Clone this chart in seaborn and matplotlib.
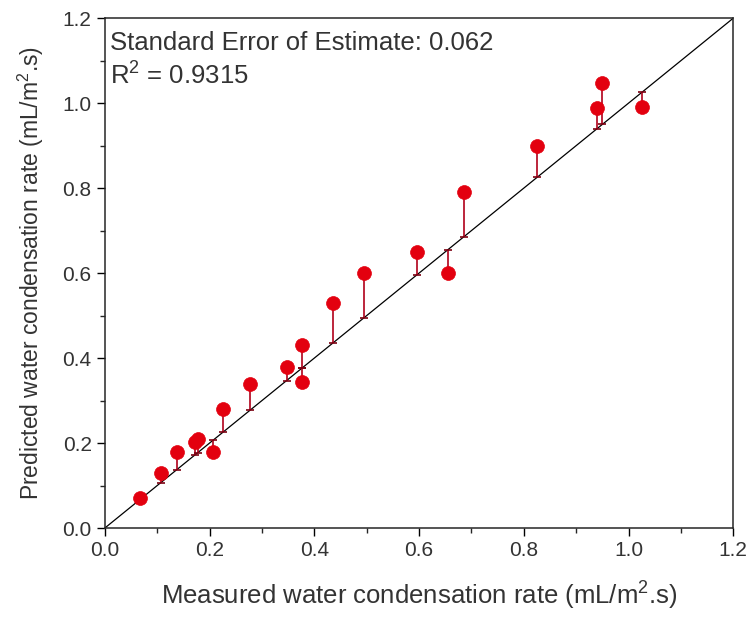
import matplotlib
matplotlib.use("Agg")
import matplotlib.pyplot as plt
from matplotlib.ticker import MultipleLocator
import seaborn as sns
import pandas as pd

# measured vs predicted water condensation rate (mL/m2.s)
measured = [0.067, 0.107, 0.137, 0.172, 0.177, 0.207, 0.225, 0.277, 0.347,
            0.376, 0.377, 0.436, 0.495, 0.596, 0.655, 0.686, 0.826, 0.94,
            0.95, 1.026]
predicted = [0.071, 0.129, 0.179, 0.202, 0.21, 0.18, 0.28, 0.34, 0.38,
             0.43, 0.343, 0.53, 0.60, 0.65, 0.60, 0.79, 0.90, 0.988,
             1.047, 0.99]
axis_ticks = [0.0, 0.2, 0.4, 0.6, 0.8, 1.0, 1.2]
std_err = 0.062
r_squared = 0.9315

df = pd.DataFrame({"measured": measured, "predicted": predicted})

sns.set_style("ticks")
plt.rcParams["font.family"] = ["Liberation Sans", "DejaVu Sans"]
plt.rcParams["mathtext.fontset"] = "custom"
plt.rcParams["mathtext.rm"] = "Liberation Sans"

fig = plt.figure(figsize=(7.49, 6.18), dpi=100)
ax = fig.add_axes([0.140, 0.1456, 0.839, 0.825])

# 1:1 line
ax.plot([0, 1.2], [0, 1.2], color="black", lw=0.9, zorder=1)

# residual lines from each point to the 1:1 line
ax.vlines(df["measured"], df["measured"], df["predicted"], color="#b0001a", lw=1.2, zorder=2)
ax.scatter(df["measured"], df["measured"], marker="_", s=30, color="#7a0010", lw=1.2, zorder=2)

sns.scatterplot(data=df, x="measured", y="predicted", ax=ax, color="#e3000f",
                marker="o", s=100, edgecolor="#e3000f", linewidth=0.5, zorder=3)

ax.set_xlim(0, 1.2)
ax.set_ylim(0, 1.2)
ax.set_xticks(axis_ticks)
ax.set_yticks(axis_ticks)
ax.xaxis.set_minor_locator(MultipleLocator(0.1))
ax.yaxis.set_minor_locator(MultipleLocator(0.1))
ax.tick_params(which="major", direction="out", length=6, width=1, labelsize=15,
               colors="black", labelcolor="#333333")
ax.tick_params(which="minor", direction="out", length=3.5, width=1)
for s in ax.spines.values():
    s.set_visible(True)
    s.set_linewidth(1.1)

ax.set_xlabel("Measured water condensation rate (mL/m$^2$.s)", fontsize=18.5,
              color="#333333", labelpad=13)
ax.set_ylabel("Predicted water condensation rate (mL/m$^2$.s)", fontsize=16.5,
              color="#333333", labelpad=12)

ax.text(0.008, 0.975, f"Standard Error of Estimate: {std_err}\nR$^2$ = {r_squared}",
        transform=ax.transAxes, ha="left", va="top", fontsize=18.5,
        color="#333333", linespacing=1.25)

fig.savefig("out.png", dpi=100)
plt.close(fig)
